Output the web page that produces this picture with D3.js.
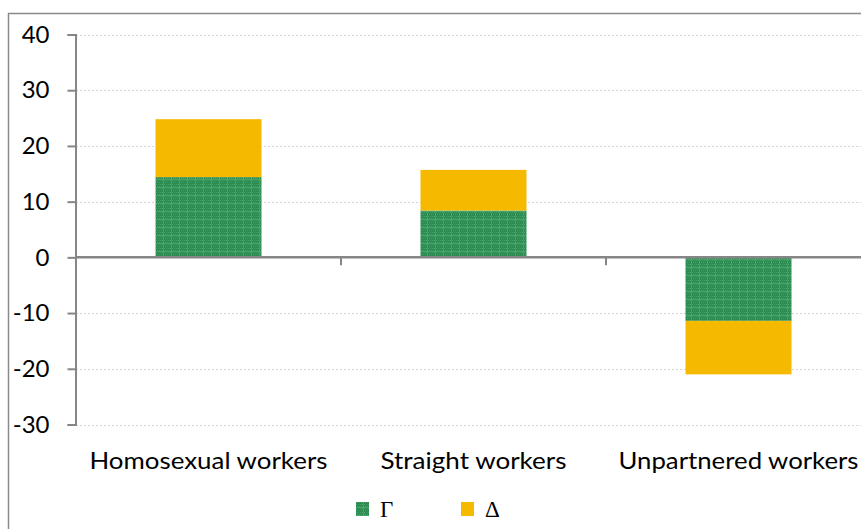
<!DOCTYPE html>
<html>
<head>
<meta charset="utf-8">
<script src="https://cdn.jsdelivr.net/npm/d3@7"></script>
<style>
  html, body { margin: 0; padding: 0; background: #fff; }
  svg { display: block; }
</style>
</head>
<body>
<svg id="chart" width="861" height="529"></svg>
<script>
// Categories and stacked components
const categories = ["Homosexual workers", "Straight workers", "Unpartnered workers"];
const gammaValues = [14.4, 8.4, -11.4];
const deltaValues = [10.4, 7.3, -9.6];
const yTicks = [-30, -20, -10, 0, 10, 20, 30, 40];
const seriesNames = ["\u0393", "\u0394"];
const labelWidths = [238, 186, 240];

const svg = d3.select("#chart");
const W = 861, H = 529;
const labelFont = "Lato, 'Open Sans', sans-serif";

// Outer chart frame (runs past the right and bottom of the view)
svg.append("rect")
  .attr("x", 8.5).attr("y", 13.5)
  .attr("width", 900).attr("height", 600)
  .attr("fill", "#fff").attr("stroke", "#8a8a8a").attr("stroke-width", 1.5);

// Pattern for the Γ series: green with a fine light dot texture
const defs = svg.append("defs");
const pat = defs.append("pattern")
  .attr("id", "gammaFill").attr("patternUnits", "userSpaceOnUse")
  .attr("width", 8).attr("height", 8);
pat.append("rect").attr("width", 8).attr("height", 8).attr("fill", "#2b8a50");
for (let i = 0; i < 8; i += 2) {
  for (let j = 0; j < 8; j += 2) {
    pat.append("rect").attr("x", i + ((j / 2) % 2)).attr("y", j)
      .attr("width", 1).attr("height", 1).attr("fill", "#44a268");
  }
}
pat.append("rect").attr("x", 0).attr("y", 3).attr("width", 8).attr("height", 1).attr("fill", "#55ad76").attr("opacity", 0.6);
pat.append("rect").attr("x", 3).attr("y", 0).attr("width", 1).attr("height", 8).attr("fill", "#55ad76").attr("opacity", 0.6);

const left = 76, step = 265;
const x = d3.scaleBand()
  .domain(categories)
  .range([left, left + step * categories.length])
  .paddingInner(0.6).paddingOuter(0.3);

const y = d3.scaleLinear().domain([-30, 40]).range([424.5, 34.5]);

// Dotted gridlines
svg.append("g").selectAll("line")
  .data(yTicks.filter(d => d !== 0))
  .join("line")
  .attr("x1", left).attr("x2", W)
  .attr("y1", d => Math.round(y(d)) + 0.5).attr("y2", d => Math.round(y(d)) + 0.5)
  .attr("stroke", "#d4d4d4").attr("stroke-width", 1)
  .attr("stroke-dasharray", "2,2");

// Stacked bars
const gammaColor = "url(#gammaFill)";
const deltaColor = "#f5b900";
const g = svg.append("g");
categories.forEach((c, i) => {
  const gv = gammaValues[i], dv = deltaValues[i];
  g.append("rect")
    .attr("x", x(c)).attr("width", x.bandwidth())
    .attr("y", y(Math.max(0, gv))).attr("height", Math.abs(y(gv) - y(0)))
    .attr("fill", gammaColor);
  g.append("rect")
    .attr("x", x(c)).attr("width", x.bandwidth())
    .attr("y", y(Math.max(gv, gv + dv))).attr("height", Math.abs(y(gv + dv) - y(gv)))
    .attr("fill", deltaColor);
});

// Y axis
const yAxis = svg.append("g")
  .attr("transform", `translate(${left - 0.5},0)`)
  .call(d3.axisLeft(y).tickValues(yTicks).tickSize(8).tickPadding(18).tickFormat(d => String(d)));
yAxis.select(".domain").attr("stroke", "#868686").attr("stroke-width", 2);
yAxis.selectAll(".tick line").attr("stroke", "#868686").attr("stroke-width", 2);
yAxis.selectAll("text")
  .attr("font-family", labelFont)
  .attr("font-size", 24).attr("fill", "#000");

// Category axis along zero
const xAxis = svg.append("g")
  .attr("transform", `translate(0,${y(0)})`);
xAxis.append("line")
  .attr("x1", left - 1).attr("x2", W)
  .attr("stroke", "#868686").attr("stroke-width", 2.5);
const dividers = d3.range(1, categories.length).map(k => left + step * k);
xAxis.selectAll(".div")
  .data(dividers).join("line")
  .attr("x1", d => d).attr("x2", d => d)
  .attr("y1", 0).attr("y2", 8)
  .attr("stroke", "#868686").attr("stroke-width", 2);

// Category labels
svg.append("g").selectAll("text")
  .data(categories).join("text")
  .attr("x", d => x(d) + x.bandwidth() / 2)
  .attr("y", 469)
  .attr("text-anchor", "middle")
  .attr("font-family", labelFont)
  .attr("font-size", 24).attr("fill", "#000")
  .attr("textLength", (d, i) => labelWidths[i])
  .attr("lengthAdjust", "spacingAndGlyphs")
  .text(d => d);

// Legend
const legend = svg.append("g");
const legendItems = [
  { name: seriesNames[0], fill: gammaColor, x: 356 },
  { name: seriesNames[1], fill: deltaColor, x: 461 }
];
legendItems.forEach(it => {
  legend.append("rect")
    .attr("x", it.x).attr("y", 502).attr("width", 13).attr("height", 14)
    .attr("fill", it.fill);
  legend.append("text")
    .attr("x", it.x + 24).attr("y", 517)
    .attr("font-family", "'Liberation Serif', 'DejaVu Serif', serif")
    .attr("font-size", 23).attr("fill", "#000")
    .text(it.name);
});
</script>
</body>
</html>
